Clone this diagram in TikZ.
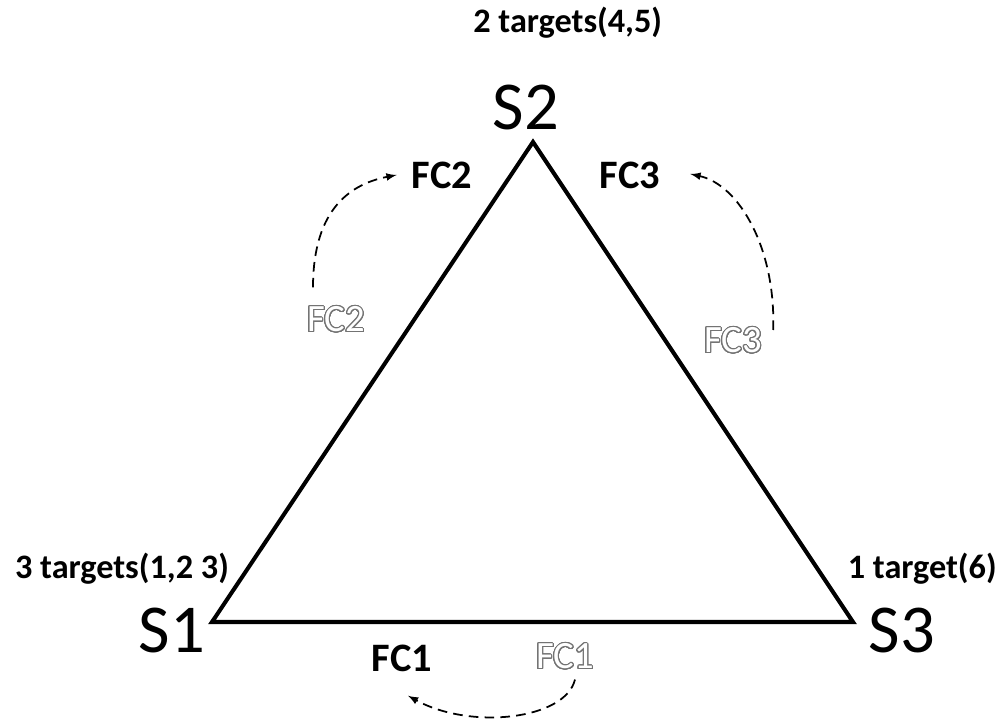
\documentclass[tikz,border=0pt]{standalone}
\usepackage{fontspec}
\setmainfont{Carlito}
\usepackage{contour}
\contourlength{0.6pt}
\contournumber{32}
\usetikzlibrary{arrows, positioning, calc}

\newcommand{\hollow}[1]{\contour{black!55}{\textcolor{white}{#1}}}

\begin{document}
\begin{tikzpicture}[x=0.02cm, y=-0.02cm,
    vertex/.style={font=\fontsize{39}{41}\selectfont, inner sep=0pt},
    tag/.style={font=\fontsize{19.5}{22}\selectfont\bfseries, inner sep=0pt},
    fcbold/.style={font=\fontsize{23}{25}\selectfont\bfseries, inner sep=0pt},
    fcghost/.style={font=\fontsize{22}{24}\selectfont, inner sep=0pt},
    move/.style={->, >=latex, dash pattern=on 5.5pt off 3.5pt, line width=1pt}]
    \useasboundingbox (0,0) rectangle (1008,723);

    % Define corners and their labels
    \coordinate (v1) at (212,622);
    \coordinate (v2) at (533,142);
    \coordinate (v3) at (853,622);
    \node [vertex] (s1) at (172,630) {S1};
    \node [vertex] (s2) at (526,108) {S2};
    \node [vertex] (s3) at (902,630) {S3};
    \node [tag] (t1) at (122,569) {3 targets(1,2 3)};
    \node [tag, anchor=west] (t2) at (473,23) {2 targets(4,5)};
    \node [tag, anchor=east] (t3) at (997,569) {1 target(6)};

    % Edge labels
    \node [fcbold] (b1) at (402,658) {FC1};
    \node [fcbold] (b2) at (442,175) {FC2};
    \node [fcbold] (b3) at (630,175) {FC3};
    \node [fcghost] (o1) at (565,657) {\hollow{FC1}};
    \node [fcghost] (o2) at (336,320) {\hollow{FC2}};
    \node [fcghost] (o3) at (733,341) {\hollow{FC3}};

    % Draw triangle
    \draw [line width=2.3pt] (v1) -- (v2) -- (v3) -- cycle;

    % Draw dashed arrows
    \draw [move] ($(o2.north)+(-23,-19)$) .. controls (313,215) and (345,185) .. ($(b2.west)+(-15,0)$);
    \draw [move] ($(o3.east)+(11,-11)$) .. controls (776,250) and (740,185) .. ($(b3.east)+(30,-1)$);
    \draw [move] ($(o1.south)+(10,9)$) .. controls (565,720) and (470,730) .. ($(b1.south)+(6,24)$);
\end{tikzpicture}
\end{document}
